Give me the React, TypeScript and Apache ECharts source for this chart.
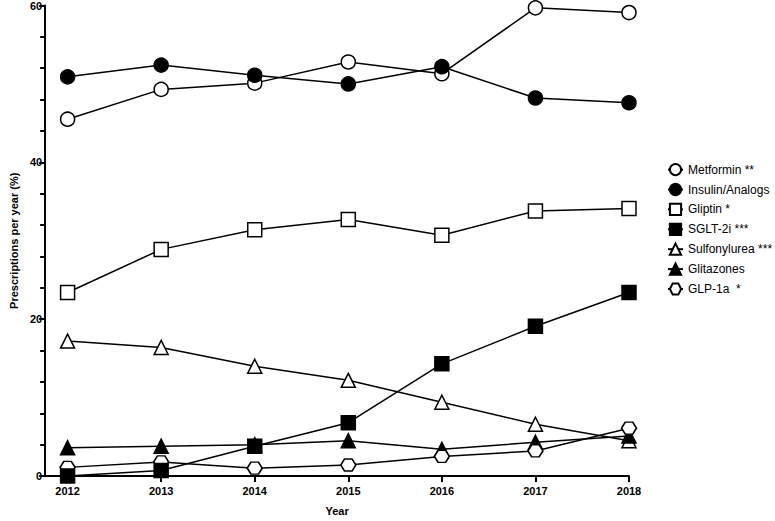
import React, { useEffect, useRef } from "react";
import * as echarts from "echarts";

const years = [2012, 2013, 2014, 2015, 2016, 2017, 2018];
const metformin = [45.5, 49.3, 50.1, 52.8, 51.3, 59.7, 59.1];
const insulin = [50.9, 52.4, 51.1, 50.0, 52.2, 48.2, 47.6];
const gliptin = [23.4, 28.9, 31.4, 32.7, 30.7, 33.8, 34.1];
const sglt2 = [0, 0.7, 3.8, 6.8, 14.3, 19.1, 23.4];
const sulfonylurea = [17.2, 16.4, 14.0, 12.2, 9.4, 6.6, 4.5];
const glitazones = [3.6, 3.8, 4.0, 4.5, 3.4, 4.3, 5.1];
const glp1a = [1.1, 1.8, 1.0, 1.4, 2.5, 3.2, 6.1];
const yTicks = [0, 20, 40, 60];

const HEX = "path://M-1,0 L-0.5,-0.866 L0.5,-0.866 L1,0 L0.5,0.866 L-0.5,0.866 Z";
const FONT = "Arial, 'Liberation Sans', sans-serif";

function pairs(v: number[]) {
  return years.map((y, i) => [y, v[i]]);
}

export default function App() {
  const ref = useRef<HTMLDivElement>(null);
  useEffect(() => {
    if (!ref.current) return;
    const chart = echarts.init(ref.current, undefined, { renderer: "svg" });
    const mk = (name: string, data: number[], symbol: string, size: any, filled: boolean, z = 2) => ({
      name,
      type: "line",
      data: pairs(data),
      symbol,
      symbolSize: size,
      clip: false,
      z,
      lineStyle: { color: "#000", width: 1.5 },
      itemStyle: { color: filled ? "#000" : "#fff", borderColor: "#000", borderWidth: 1.5 },
      emphasis: { disabled: true },
    });
    chart.setOption({
      animation: false,
      textStyle: { fontFamily: FONT },
      grid: { left: 38, right: 146, top: 5, bottom: 39 },
      legend: {
        orient: "vertical",
        left: 662,
        top: 158,
        itemWidth: 15,
        itemHeight: 14,
        itemGap: 6.7,
        textStyle: { color: "#000", fontSize: 12, fontFamily: FONT },
        data: ["Metformin **", "Insulin/Analogs", "Gliptin *", "SGLT-2i ***", "Sulfonylurea ***", "Glitazones", "GLP-1a  *"],
      },
      xAxis: {
        type: "value",
        min: 2011.76,
        max: 2018,
        name: "Year",
        nameLocation: "middle",
        nameGap: 29,
        nameTextStyle: { color: "#000", fontWeight: "bold", fontSize: 11, fontFamily: FONT },
        axisLine: { lineStyle: { color: "#000", width: 2 } },
        axisTick: { show: true, customValues: years, length: 6, lineStyle: { color: "#000", width: 2 } },
        axisLabel: {
          customValues: years,
          color: "#000",
          fontWeight: "bold",
          fontSize: 11,
          margin: 9,
          formatter: (v: number) => String(v),
        },
        splitLine: { show: false },
      },
      yAxis: {
        type: "value",
        min: 0,
        max: 60,
        interval: 20,
        name: "Prescriptions per year (%)",
        nameLocation: "middle",
        nameGap: 26,
        nameTextStyle: { color: "#000", fontWeight: "bold", fontSize: 11, fontFamily: FONT },
        axisLine: { show: true, lineStyle: { color: "#000", width: 2 } },
        axisTick: { show: true, length: 6, lineStyle: { color: "#000", width: 2 } },
        minorTick: { show: true, splitNumber: 5, length: 5, lineStyle: { color: "#000", width: 2 } },
        axisLabel: {
          color: "#000",
          fontWeight: "bold",
          fontSize: 11,
          margin: 3,
          customValues: yTicks,
        },
        splitLine: { show: false },
      },
      series: [
        mk("Metformin **", metformin, "circle", 14, false),
        mk("Insulin/Analogs", insulin, "circle", 14, true),
        mk("Gliptin *", gliptin, "rect", 14, false),
        mk("SGLT-2i ***", sglt2, "rect", 14, true, 3),
        mk("Sulfonylurea ***", sulfonylurea, "triangle", 14, false),
        mk("Glitazones", glitazones, "triangle", 14, true),
        mk("GLP-1a  *", glp1a, HEX, [15, 12], false),
      ],
    });
    return () => chart.dispose();
  }, []);
  return (
    <div
      ref={ref}
      style={{ position: "fixed", left: 0, top: 0, width: 775, height: 521, background: "#fff" }}
    />
  );
}
